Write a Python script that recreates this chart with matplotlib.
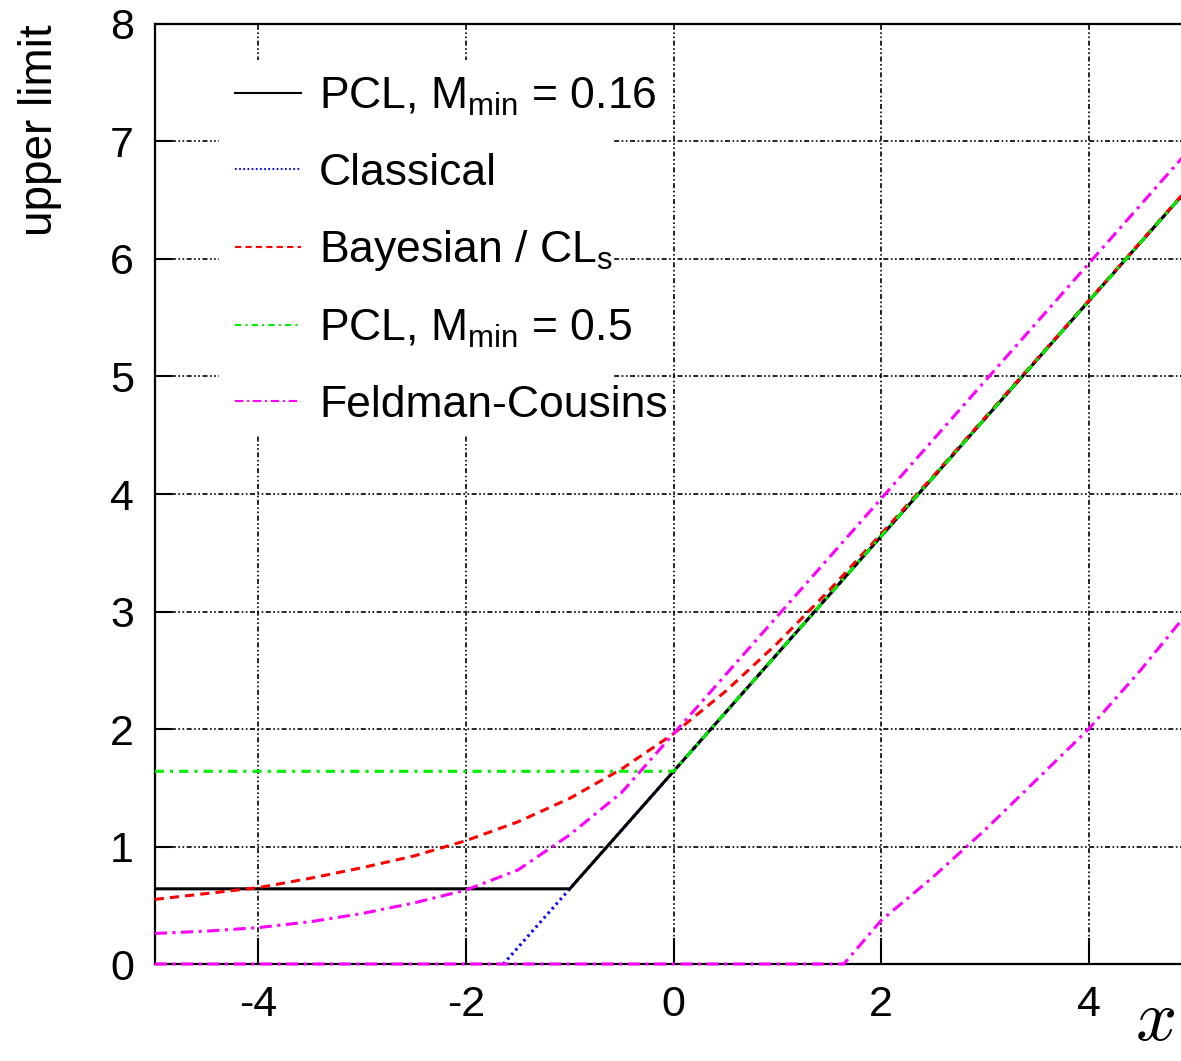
import numpy as np
import matplotlib
matplotlib.use("Agg")
import matplotlib.pyplot as plt
from matplotlib.patches import Rectangle

plt.rcParams['font.family'] = ['Liberation Sans', 'DejaVu Sans']
plt.rcParams['mathtext.fontset'] = 'custom'
plt.rcParams['mathtext.rm'] = 'Liberation Sans'
plt.rcParams['mathtext.it'] = 'Liberation Sans:italic'
plt.rcParams['axes.unicode_minus'] = False

# PCL, M_min = 0.16 (power constrained at 0.64, then classical)
pcl16_x = [-5.0, -1.0, 5.0]
pcl16_y = [0.64, 0.64, 6.64]

# classical limit (only visible below the PCL kink)
classical_x = [-1.64, 5.0]
classical_y = [0.0, 6.64]

# PCL, M_min = 0.5
pcl50_x = [-5.0, 0.0, 5.0]
pcl50_y = [1.64, 1.64, 6.64]

# Bayesian / CLs upper limit
bayes_x = [-5, -4.5, -4, -3.5, -3, -2.5, -2, -1.5, -1, -0.5, 0, 0.5, 1, 1.5, 2, 2.5, 3, 4, 5]
bayes_y = [0.55, 0.60, 0.65, 0.73, 0.82, 0.92, 1.05, 1.21, 1.41, 1.66, 1.96, 2.32, 2.73, 3.18,
           3.66, 4.15, 4.65, 5.645, 6.645]

# Feldman-Cousins upper and lower edges
fc_up_x = [-5, -4.5, -4, -3.5, -3, -2.5, -2, -1.5, -1, -0.5, 0, 0.5, 1, 2, 3, 4, 5]
fc_up_y = [0.26, 0.28, 0.31, 0.36, 0.43, 0.52, 0.63, 0.80, 1.10, 1.46, 1.96, 2.46, 2.96, 3.96,
           4.96, 5.96, 6.96]
fc_lo_x = [-5, 1.64, 2, 2.5, 3, 3.5, 4, 4.5, 5]
fc_lo_y = [0.0, 0.0, 0.37, 0.74, 1.14, 1.57, 2.0, 2.5, 3.04]

xticks = [-4, -2, 0, 2, 4]
yticks = [0, 1, 2, 3, 4, 5, 6, 7, 8]

fig = plt.figure(figsize=(11.81, 10.61), dpi=100)
ax = fig.add_axes([0.131, 0.0914, 0.869, 0.886])

ax.set_xlim(-5, 4.89)
ax.set_ylim(0, 8)
ax.set_xticks(xticks)
ax.set_yticks(yticks)
ax.set_axisbelow(True)
ax.grid(True, color='black', lw=1.2, linestyle=(0, (3, 1.5, 1, 1.5, 1, 1.5)))
ax.tick_params(axis='both', direction='in', labelsize=31, width=1.5)
ax.tick_params(axis='y', length=12, pad=15)
ax.tick_params(axis='x', length=19, pad=15)
ax.spines['right'].set_visible(False)
for s in ['left', 'top', 'bottom']:
    ax.spines[s].set_linewidth(1.6)

# white box behind legend (hides the grid there)
ax.add_patch(Rectangle((0.063, 0.563), 0.383, 0.399, transform=ax.transAxes,
                       facecolor='white', edgecolor='none', zorder=1))

lw = 2.2
ax.plot(pcl16_x, pcl16_y, color='black', lw=lw, zorder=3,
        label=r'PCL, M$_{\mathrm{min}}$ = 0.16')
ax.plot(classical_x, classical_y, color='blue', lw=lw, ls=(0, (0.8, 1.2)), zorder=2,
        label='Classical')
ax.plot(bayes_x, bayes_y, color='red', lw=lw, ls=(0, (3, 2)), zorder=4,
        label=r'Bayesian / CL$_{\mathrm{s}}$')
ax.plot(pcl50_x, pcl50_y, color='#00ee00', lw=lw, ls=(0, (3, 2, 1, 2)), zorder=5,
        label=r'PCL, M$_{\mathrm{min}}$ = 0.5')
ax.plot(fc_up_x, fc_up_y, color='magenta', lw=lw, ls=(0, (4, 1.8, 1, 1.8)), zorder=6,
        label='Feldman-Cousins')
ax.plot(fc_lo_x, fc_lo_y, color='magenta', lw=lw, ls=(0, (4, 1.8, 1, 1.8)), zorder=6,
        clip_on=False)

leg = ax.legend(loc='upper left', bbox_to_anchor=(0.078, 0.945), frameon=False,
                fontsize=32, handlelength=1.5, handletextpad=0.4, labelspacing=0.78,
                borderaxespad=0, borderpad=0)
for h in leg.get_lines():
    h.set_linewidth(1.5)

fig.text(0.034, 0.977, 'upper limit', rotation=90, ha='center', va='top', fontsize=33)
fig.text(0.978, 0.006, '$x$', fontsize=52, ha='center', va='bottom', math_fontfamily='cm')

fig.savefig('out.png', dpi=100)
